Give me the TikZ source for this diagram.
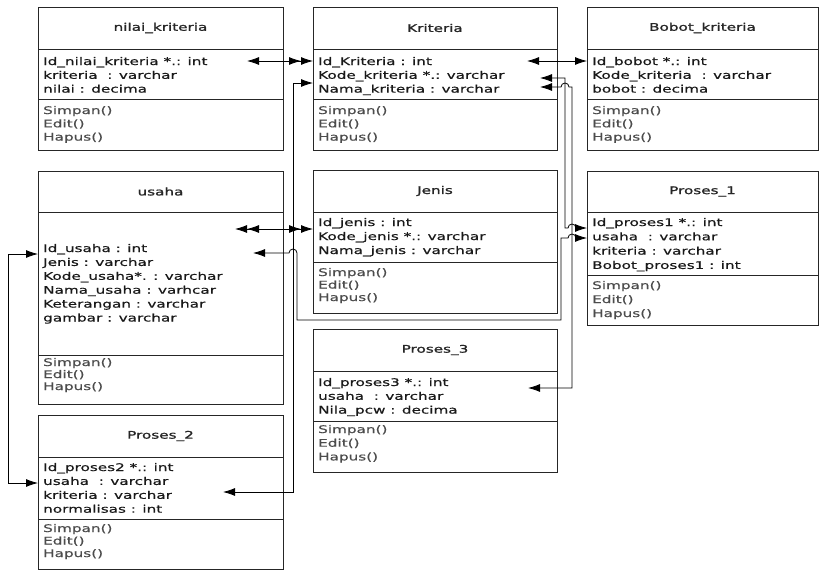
\documentclass[tikz,border=0pt]{standalone}
\usepackage{fontspec}
\newfontfamily\umlfont[FakeStretch=1.45,FakeBold=0.6]{DejaVu Sans}
\newfontfamily\umltitlefont[FakeStretch=1.45,FakeBold=1.4]{DejaVu Sans}
\usetikzlibrary{arrows.meta}
\tikzset{
  umlframe/.style={draw=black!85, rectangle, inner sep=0pt, outer sep=0pt, line width=0.8pt},
  umltitle/.style={inner sep=0pt, text=black!85, font=\umltitlefont\fontsize{10.5}{12}\selectfont},
  umltxt/.style={inner sep=0pt, anchor=base west, text=black!90, font=\umlfont\fontsize{10.5}{12}\selectfont},
  umlmeth/.style={umltxt, text=black!70},
  conn/.style={line width=0.8pt},
  >={Latex[length=12pt,width=8pt]}
}
\newcommand\umlbox[8]{%
  \node[umlframe, anchor=north west, minimum width={#4-#2}, minimum height={#5-#3}] (#1) at (#2,#3) {};
  \draw[line width=0.8pt, black!85] (#2,#6) -- (#4,#6) (#2,#7) -- (#4,#7);
  \node[umltitle] (#1-t) at ({(#2+#4)/2},{(#3+#6)/2}) {#8};
}
\newcommand\umlrows[6]{%
  \foreach \t [count=\i] in {#6} \node[#5] (#1\i) at (#2,{#3+(\i-1)*#4}) {\t};
}
\begin{document}
\begin{tikzpicture}[x=1pt,y=-1pt]
\useasboundingbox (0,0) rectangle (819,570);
% nilai_kriteria
\umlbox{nk}{38}{7}{283}{150}{49}{99}{nilai\_kriteria}
\umlrows{nk-a}{43}{65}{13.8}{umltxt}{Id\_nilai\_kriteria *.: int,kriteria~ : varchar,nilai : decima}
\umlrows{nk-m}{43}{114}{13.3}{umlmeth}{Simpan(),Edit(),Hapus()}
% Kriteria
\umlbox{kr}{313}{7}{557}{150}{49}{99}{Kriteria}
\umlrows{kr-a}{318}{65}{13.8}{umltxt}{Id\_Kriteria : int,Kode\_kriteria *.: varchar,Nama\_kriteria : varchar}
\umlrows{kr-m}{318}{114}{13.3}{umlmeth}{Simpan(),Edit(),Hapus()}
% Bobot_kriteria
\umlbox{bb}{587}{7}{818}{150}{49}{99}{Bobot\_kriteria}
\umlrows{bb-a}{592}{65}{13.8}{umltxt}{Id\_bobot *.: int,Kode\_kriteria~ : varchar,bobot : decima}
\umlrows{bb-m}{592}{114}{13.3}{umlmeth}{Simpan(),Edit(),Hapus()}
% usaha
\umlbox{us}{38}{171}{283}{404}{212}{355}{usaha}
\umlrows{us-a}{43}{252}{13.9}{umltxt}{Id\_usaha : int,Jenis : varchar,Kode\_usaha*. : varchar,Nama\_usaha : varhcar,Keterangan : varchar,gambar : varchar}
\umlrows{us-m}{43}{366}{12}{umlmeth}{Simpan(),Edit(),Hapus()}
% Proses_2
\umlbox{pr2}{38}{415}{283}{569}{457}{519}{Proses\_2}
\umlrows{pr2-a}{43}{471}{13.9}{umltxt}{Id\_proses2 *.: int,usaha~ : varchar,kriteria : varchar,normalisas : int}
\umlrows{pr2-m}{43}{532}{12.5}{umlmeth}{Simpan(),Edit(),Hapus()}
% Jenis
\umlbox{je}{313}{170}{557}{313}{212}{262}{Jenis}
\umlrows{je-a}{318}{226}{14}{umltxt}{Id\_jenis : int,Kode\_jenis *.: varchar,Nama\_jenis : varchar}
\umlrows{je-m}{318}{276}{12.5}{umlmeth}{Simpan(),Edit(),Hapus()}
% Proses_1
\umlbox{p1}{587}{171}{818}{325}{212}{275}{Proses\_1}
\umlrows{p1-a}{592}{226}{14.3}{umltxt}{Id\_proses1 *.: int,usaha~ : varchar,kriteria : varchar,Bobot\_proses1 : int}
\umlrows{p1-m}{592}{289}{14}{umlmeth}{Simpan(),Edit(),Hapus()}
% Proses_3
\umlbox{p3}{313}{329}{557}{472}{371}{421}{Proses\_3}
\umlrows{p3-a}{318}{386}{13.8}{umltxt}{Id\_proses3 *.: int,usaha~ : varchar,Nila\_pcw : decima}
\umlrows{p3-m}{318}{433}{13.7}{umlmeth}{Simpan(),Edit(),Hapus()}
% connectors
\draw[conn,<->>] ([xshift=-36pt]nk.east |- 0,61) -- (kr.west |- 0,61);
\draw[conn,<->] ([xshift=-30pt]kr.east |- 0,61) -- (bb.west |- 0,61);
\draw[conn,<->] ([xshift=-60pt]pr2.east |- 0,492) -- (293,492) -- (293,83) -- (kr.west |- 0,83);
\draw[conn,<->] ([xshift=-17pt]kr.east |- 0,78) -- (565,78) -- (565,228) -- (568,228)
   arc[start angle=180,end angle=0,radius=4pt] -- (p1.west |- 0,228);
\draw[conn,<->] ([xshift=-17pt]kr.east |- 0,87) -- (561,87)
   arc[start angle=180,end angle=0,radius=4pt] -- (572,87) -- (572,388) -- ([xshift=-29pt]p3.east |- 0,388);
\draw[conn,<<->>] ([xshift=-48pt]us.east |- 0,229) -- (je.west |- 0,229);
\draw[conn,<->] ([xshift=-30pt]us.east |- 0,253) -- (289,253)
   arc[start angle=180,end angle=0,radius=4pt] -- (297,320) -- (561,320) -- (561,238) -- (568,238)
   arc[start angle=180,end angle=0,radius=4pt] -- (p1.west |- 0,238);
\draw[conn,<->] (us.west |- 0,254) -- (8,254) -- (8,483) -- (pr2.west |- 0,483);
\end{tikzpicture}
\end{document}
